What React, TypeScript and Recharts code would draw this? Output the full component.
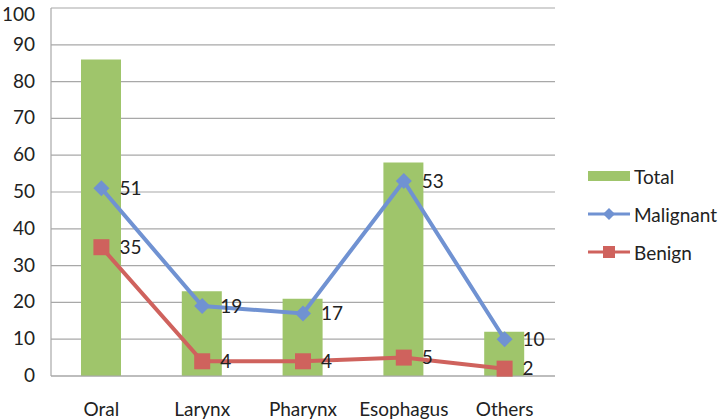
import { Bar, ComposedChart, Line, XAxis, YAxis, CartesianGrid, LabelList } from 'recharts';

const categories = ['Oral', 'Larynx', 'Pharynx', 'Esophagus', 'Others'];
const totalValues = [86, 23, 21, 58, 12];
const malignantValues = [51, 19, 17, 53, 10];
const benignValues = [35, 4, 4, 5, 2];
const yTicks = [0, 10, 20, 30, 40, 50, 60, 70, 80, 90, 100];

const GREEN = '#9fc56b';
const BLUE = '#7092d2';
const RED = '#cf625d';
const FONT = 'Lato, "Open Sans", sans-serif';
const FS = 19;

const chartData = categories.map((name, i) => ({
  name,
  Total: totalValues[i],
  Malignant: malignantValues[i],
  Benign: benignValues[i],
}));

const Diamond = (props: any) => {
  const { cx, cy } = props;
  if (cx == null || cy == null) return null;
  const r = 8;
  return <path d={`M${cx},${cy - r}L${cx + r},${cy}L${cx},${cy + r}L${cx - r},${cy}Z`} fill={BLUE} />;
};

const Square = (props: any) => {
  const { cx, cy } = props;
  if (cx == null || cy == null) return null;
  const s = 8;
  return <rect x={cx - s} y={cy - s} width={s * 2} height={s * 2} fill={RED} />;
};

// y tick labels, right-aligned a bit left of the axis; top one nudged down to stay on the page
const YTick = (props: any) => {
  const { y, payload } = props;
  const dy = payload.value === 100 ? 12 : 6;
  return (
    <text x={35} y={y} dy={dy} textAnchor="end" fontSize={FS} fill="#222" fontFamily={FONT}>
      {payload.value}
    </text>
  );
};

// legend drawn by hand on the right side
const LegendBox = () => {
  const row = { display: 'flex', alignItems: 'center', height: 38, fontFamily: FONT, fontSize: FS, color: '#222' };
  return (
    <div style={{ position: 'absolute', left: 588, top: 157 }}>
      <div style={row}>
        <svg width={46} height={14}><rect x={0} y={2} width={42} height={10} fill={GREEN} /></svg>
        <span>Total</span>
      </div>
      <div style={row}>
        <svg width={46} height={14}>
          <line x1={0} y1={7} x2={42} y2={7} stroke={BLUE} strokeWidth={3} />
          <path d="M21,1L27,7L21,13L15,7Z" fill={BLUE} />
        </svg>
        <span>Malignant</span>
      </div>
      <div style={row}>
        <svg width={46} height={14}>
          <line x1={0} y1={7} x2={42} y2={7} stroke={RED} strokeWidth={3} />
          <rect x={15} y={1} width={12} height={12} fill={RED} />
        </svg>
        <span>Benign</span>
      </div>
    </div>
  );
};

export default function App() {
  const labelStyle = { fontSize: FS, fill: '#222', fontFamily: FONT };
  return (
    <div style={{ position: 'absolute', left: 0, top: 0, width: 722, height: 420, background: '#fff' }}>
      <ComposedChart width={722} height={420} data={chartData} margin={{ top: 8, right: 167, left: 0, bottom: 0 }}>
        <CartesianGrid vertical={false} stroke="#a8a8a8" strokeWidth={1.2} />
        <XAxis
          dataKey="name"
          height={44}
          tickLine={false}
          axisLine={{ stroke: '#a8a8a8', strokeWidth: 1.2 }}
          tick={labelStyle}
          tickMargin={21}
        />
        <YAxis
          width={51}
          domain={[0, 100]}
          ticks={yTicks}
          tickLine={false}
          axisLine={{ stroke: '#a8a8a8', strokeWidth: 1.2 }}
          tick={<YTick />}
        />
        <Bar dataKey="Total" fill={GREEN} barSize={40} isAnimationActive={false} />
        <Line dataKey="Malignant" stroke={BLUE} strokeWidth={4} dot={<Diamond />} activeDot={false} isAnimationActive={false}>
          <LabelList dataKey="Malignant" position="right" offset={18} style={labelStyle} />
        </Line>
        <Line dataKey="Benign" stroke={RED} strokeWidth={4} dot={<Square />} activeDot={false} isAnimationActive={false}>
          <LabelList dataKey="Benign" position="right" offset={18} style={labelStyle} />
        </Line>
      </ComposedChart>
      <LegendBox />
    </div>
  );
}
